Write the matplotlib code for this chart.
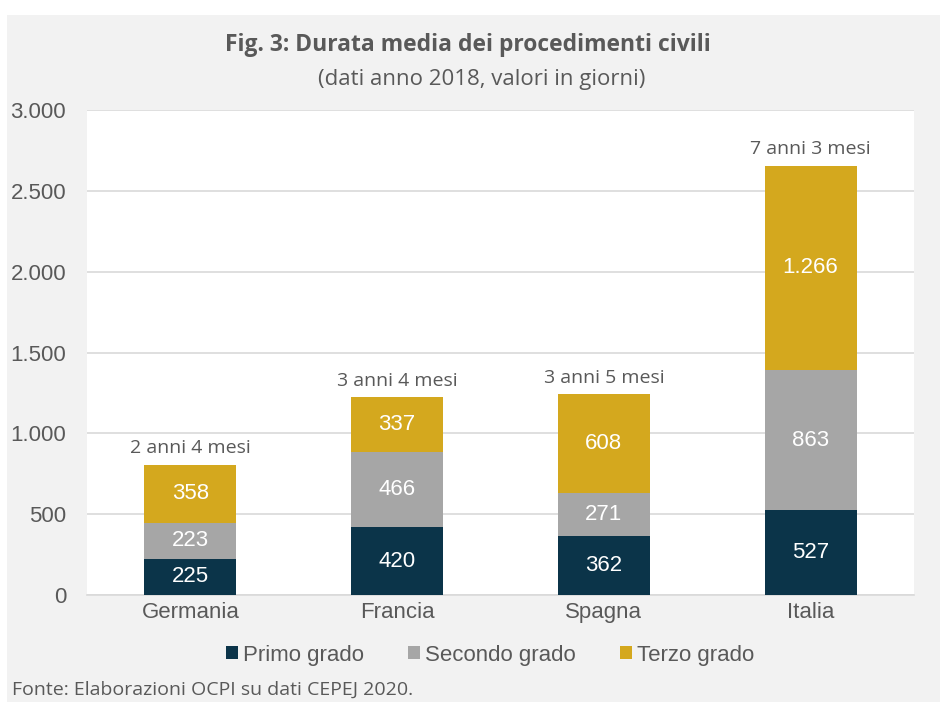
import matplotlib
matplotlib.use("Agg")
import matplotlib.pyplot as plt
from matplotlib.patches import Rectangle
import numpy as np

paesi = ["Germania", "Francia", "Spagna", "Italia"]
primo = [225, 420, 362, 527]
secondo = [223, 466, 271, 863]
terzo = [358, 337, 608, 1266]
durata = ["2 anni 4 mesi", "3 anni 4 mesi", "3 anni 5 mesi", "7 anni 3 mesi"]
serie = ["Primo grado", "Secondo grado", "Terzo grado"]
colori = ["#0b3449", "#a6a6a6", "#d4a81e"]
yticks = [0, 500, 1000, 1500, 2000, 2500, 3000]

def fmt(v):
    return f"{v:,}".replace(",", ".")

plt.rcParams["font.family"] = ["Liberation Sans", "DejaVu Sans"]

fig = plt.figure(figsize=(9.4, 7.02), dpi=100)
fig.patches.append(Rectangle((7 / 940, 0), 1, 1 - 15 / 702, transform=fig.transFigure,
                             facecolor="#f2f2f2", edgecolor="none", zorder=-10))
ax = fig.add_axes([87 / 940, 1 - 595 / 702, (914 - 87) / 940, (595 - 110) / 702])
ax.set_facecolor("white")

x = np.arange(len(paesi))
w = 0.445
bottom = np.zeros(len(paesi))
for vals, col, lab in zip([primo, secondo, terzo], colori, serie):
    bars = ax.bar(x, vals, w, bottom=bottom, color=col, label=lab, zorder=3)
    for b, v, b0 in zip(bars, vals, bottom):
        ax.text(b.get_x() + b.get_width() / 2, b0 + v / 2, fmt(v), ha="center", va="center",
                color="white", fontsize=16, zorder=4)
    bottom += np.array(vals)

for xi, tot, d in zip(x, bottom, durata):
    ax.text(xi, tot + 45, d, ha="center", va="bottom", color="#595959", fontsize=14,
            family=["Open Sans", "DejaVu Sans"])

ax.set_xlim(-0.5, len(paesi) - 0.5)
ax.set_ylim(0, 3000)
ax.set_yticks(yticks)
ax.set_yticklabels([fmt(v) for v in yticks])
ax.set_xticks(x)
ax.set_xticklabels(paesi)
ax.tick_params(axis="both", length=0, labelsize=16, labelcolor="#595959")
ax.tick_params(axis="y", pad=15)
ax.tick_params(axis="x", pad=5)
ax.grid(axis="y", color="#d9d9d9", lw=1.2, zorder=0)
for s in ["top", "right", "left"]:
    ax.spines[s].set_visible(False)
ax.spines["bottom"].set_color("#d9d9d9")
ax.spines["bottom"].set_linewidth(1.2)

fig.text(468 / 940, 1 - 45 / 702, "Fig. 3: Durata media dei procedimenti civili", ha="center",
         va="center", fontsize=16.5, fontweight="bold", color="#595959",
         family=["Open Sans", "DejaVu Sans"])
fig.text(482 / 940, 1 - 80 / 702, "(dati anno 2018, valori in giorni)", ha="center",
         va="center", fontsize=16, color="#595959", family=["Open Sans", "DejaVu Sans"])

fig.legend(loc="center", bbox_to_anchor=(490 / 940, 1 - 655 / 702), ncol=3, frameon=False,
           handlelength=0.55, handleheight=0.55, handletextpad=0.2, columnspacing=2.0,
           fontsize=16, labelcolor="#595959")

fig.text(12 / 940, 1 - 690 / 702, "Fonte: Elaborazioni OCPI su dati CEPEJ 2020.", ha="left",
         va="center", fontsize=14, color="#595959", family=["Open Sans", "DejaVu Sans"])

fig.savefig("out.png", dpi=100)
